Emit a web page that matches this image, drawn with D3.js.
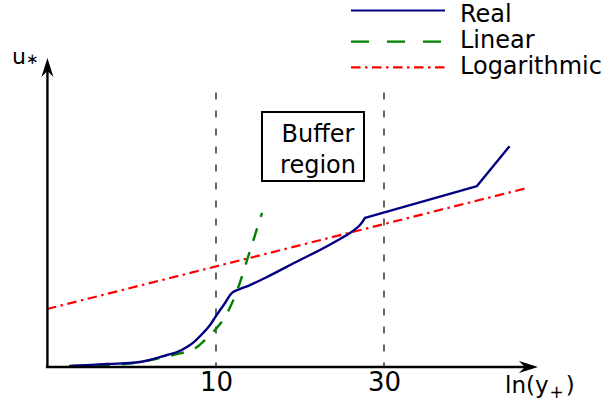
<!DOCTYPE html>
<html>
<head>
<meta charset="utf-8">
<script src="https://cdn.jsdelivr.net/npm/d3@7"></script>
<style>
  html, body { margin: 0; padding: 0; background: #fff; }
  svg { display: block; font-family: "DejaVu Sans", sans-serif; }
</style>
</head>
<body>
<svg id="chart" width="610" height="409"></svg>
<script>
// Wall-law velocity profile sketch: u* versus ln(y+)
const xTicks = [10, 30];
const tickLabels = ["10", "30"];

// axis extents (data units)
const xStart = 3.31, xEnd = 82.1;
const uStart = 0, uEnd = 25;
const guideTop = 22.2;

// "Real" profile: smooth inner part, then straight outer segments
const realX = [3.85, 4.90, 6.08, 7.26, 7.75, 8.27, 8.72, 9.19, 9.62, 10.0, 10.61, 11.10, 11.70, 12.49, 13.96, 17.32, 19.74, 22.50, 24.02, 25.64, 26.50];
const realU = [0.08, 0.24, 0.40, 0.97, 1.21, 1.62, 2.10, 2.75, 3.40, 4.13, 5.18, 5.99, 6.31, 6.63, 7.28, 8.66, 9.47, 10.36, 10.84, 11.49, 12.06];
const realOuterX = [26.50, 55.1, 67.9];
const realOuterU = [12.06, 14.64, 17.80];

// Linear (viscous sublayer) law
const linX = [3.90, 5.00, 6.08, 6.93, 7.55, 8.83, 9.43, 9.93, 10.61, 11.55, 12.33, 13.51];
const linU = [0.08, 0.16, 0.40, 0.73, 0.97, 1.62, 2.35, 2.99, 4.05, 6.39, 8.90, 12.46];

// Logarithmic law
const logX = [3.31, 76.4];
const logU = [4.69, 14.48];

const seriesNames = ["Real", "Linear", "Logarithmic"];
const seriesColors = ["#000080", "#008000", "#ff0000"];

const svg = d3.select("#chart");

const x = d3.scaleLog().domain([10, 30]).range([216, 384]);
const y = d3.scaleLinear().domain([uStart, uEnd]).range([367, 58]);

const pts = (xs, us) => xs.map((v, i) => [v, us[i]]);

// dashed guides at the tick positions
svg.append("g").selectAll("line").data(xTicks).join("line")
  .attr("x1", d => x(d)).attr("x2", d => x(d))
  .attr("y1", y(guideTop)).attr("y2", y(0))
  .attr("stroke", "#000").attr("stroke-width", 1.2)
  .attr("stroke-dasharray", "7,11");

// curves
const lineLin = d3.line().x(d => x(d[0])).y(d => y(d[1]));
const lineSmooth = d3.line().x(d => x(d[0])).y(d => y(d[1])).curve(d3.curveMonotoneX);
const lineRound = d3.line().x(d => x(d[0])).y(d => y(d[1])).curve(d3.curveCatmullRom.alpha(0.5));

svg.append("path").datum(pts(logX, logU))
  .attr("d", lineLin).attr("fill", "none")
  .attr("stroke", seriesColors[2]).attr("stroke-width", 2.2)
  .attr("stroke-dasharray", "9.5,4.5,2.5,4.5");

svg.append("path").datum(pts(linX, linU))
  .attr("d", lineSmooth).attr("fill", "none")
  .attr("stroke", seriesColors[1]).attr("stroke-width", 2.4)
  .attr("stroke-dasharray", "13,12");

svg.append("path").datum(pts(realX, realU))
  .attr("d", lineRound).attr("fill", "none")
  .attr("stroke", seriesColors[0]).attr("stroke-width", 2.4)
  .attr("stroke-linecap", "round");
svg.append("path").datum(pts(realOuterX, realOuterU))
  .attr("d", lineLin).attr("fill", "none")
  .attr("stroke", seriesColors[0]).attr("stroke-width", 2.4)
  .attr("stroke-linejoin", "round").attr("stroke-linecap", "round");

// axes with arrowheads
const x0 = x(xStart), x1 = x(xEnd), y0 = y(uStart), y1 = y(uEnd);
svg.append("line")
  .attr("x1", x0 - 1).attr("x2", x1 - 8).attr("y1", y0).attr("y2", y0)
  .attr("stroke", "#000").attr("stroke-width", 2.4);
svg.append("line")
  .attr("x1", x0 + 0.5).attr("x2", x0 + 0.5).attr("y1", y0 + 1).attr("y2", y1 + 8)
  .attr("stroke", "#000").attr("stroke-width", 2.4);

svg.append("path")
  .attr("d", `M${x1},${y0} L${x1 - 19},${y0 - 6} L${x1 - 13},${y0} L${x1 - 19},${y0 + 6} Z`)
  .attr("fill", "#000");
svg.append("path")
  .attr("d", `M${x0 + 0.5},${y1} L${x0 + 6.5},${y1 + 19} L${x0 + 0.5},${y1 + 13} L${x0 - 5.5},${y1 + 19} Z`)
  .attr("fill", "#000");

// tick labels via d3 axis
const xAxis = d3.axisBottom(x).tickValues(xTicks)
  .tickFormat((d, i) => tickLabels[i]).tickSize(0).tickPadding(0);
const gx = svg.append("g").attr("transform", `translate(0,${y0})`).call(xAxis);
gx.select(".domain").remove();
gx.selectAll("text")
  .attr("y", 24).attr("dy", 0)
  .attr("font-size", 26).attr("font-family", "DejaVu Sans, sans-serif")
  .attr("fill", "#000");

// axis titles
const xt = svg.append("text").attr("x", 505).attr("y", 393)
  .attr("font-size", 23).attr("fill", "#000");
xt.append("tspan").text("ln(y");
xt.append("tspan").attr("font-size", 17).attr("dy", 5).attr("dx", 1).text("+");
xt.append("tspan").attr("dy", -5).attr("dx", 2).text(")");

const yt = svg.append("text").attr("x", 12).attr("y", 64)
  .attr("font-size", 22).attr("fill", "#000");
yt.append("tspan").text("u");
yt.append("tspan").attr("font-size", 15).text("∗");

// annotation box
svg.append("rect").attr("x", 262).attr("y", 112).attr("width", 102).attr("height", 69)
  .attr("fill", "none").attr("stroke", "#000").attr("stroke-width", 2);
svg.append("text").attr("x", 318).attr("y", 142).attr("text-anchor", "middle")
  .attr("font-size", 24).attr("fill", "#000").text("Buffer");
svg.append("text").attr("x", 318).attr("y", 173).attr("text-anchor", "middle")
  .attr("font-size", 24).attr("fill", "#000").text("region");

// legend
const legendY = [10.5, 41.7, 67.3];
const legendBase = [21.5, 47.5, 73.5];
const legendDash = [null, "18,18", "9.5,4.5,2.5,4.5"];
const lg = svg.append("g");
seriesNames.forEach((name, i) => {
  lg.append("line")
    .attr("x1", 351).attr("x2", 445).attr("y1", legendY[i]).attr("y2", legendY[i])
    .attr("stroke", seriesColors[i]).attr("stroke-width", 2.2)
    .attr("stroke-dasharray", legendDash[i]);
  lg.append("text").attr("x", 460).attr("y", legendBase[i])
    .attr("font-size", 24).attr("fill", "#000").text(name);
});
</script>
</body>
</html>
